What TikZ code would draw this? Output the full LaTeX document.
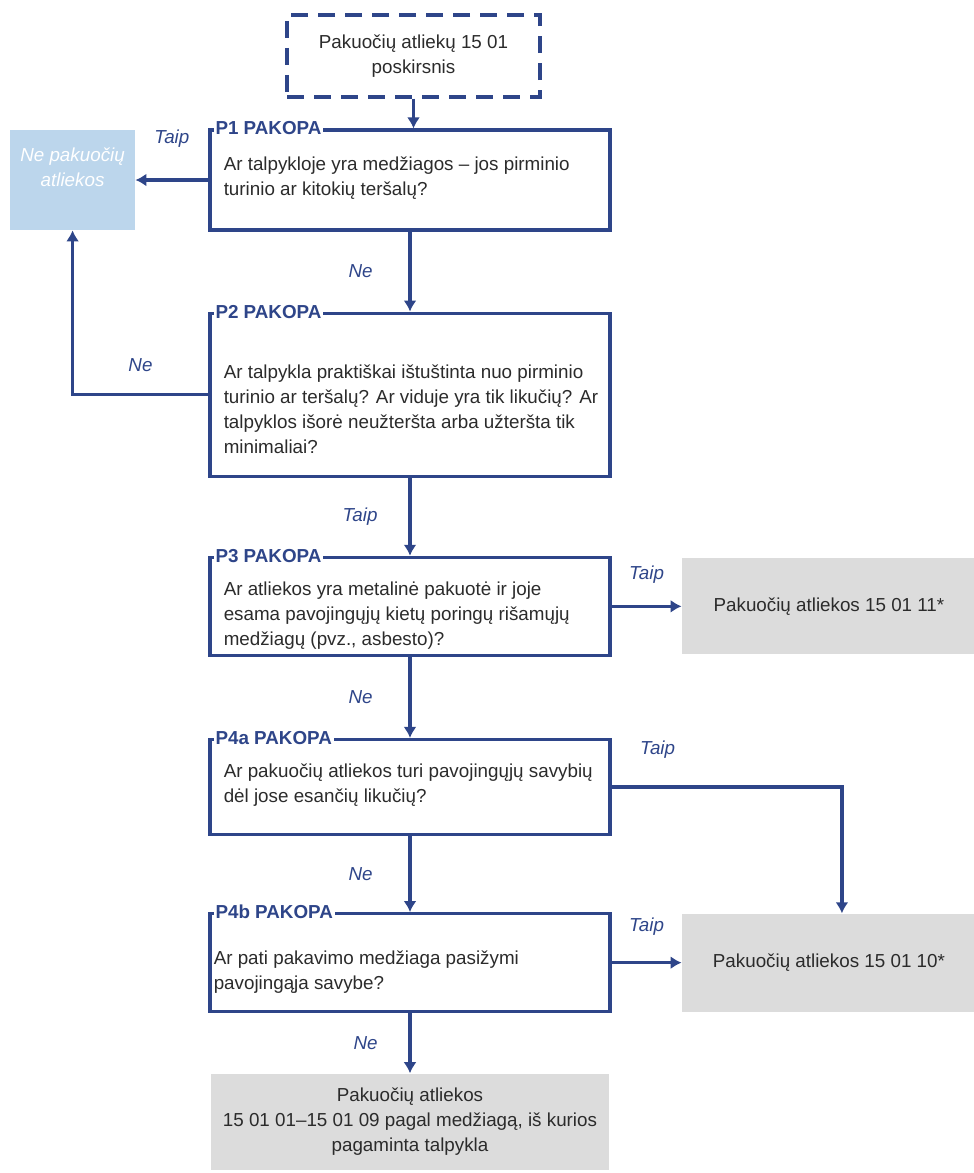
\documentclass[tikz,border=0pt]{standalone}
\usepackage{fontspec}
\setmainfont{Liberation Sans}
\usepackage{xcolor}
\usepackage{tikz}
\usetikzlibrary{positioning, arrows, arrows.meta}

\definecolor{tamsi}{HTML}{2E4589}
\definecolor{pilka}{HTML}{DCDCDC}
\definecolor{zydra}{HTML}{BCD6EC}
\definecolor{tekstas}{HTML}{2B2B2B}
\newcommand{\rasmuo}{\fontsize{10.7}{14.2}\selectfont}

\tikzset{
	pakopa/.style={draw=tamsi, line width=1.8pt, minimum width=8cm, inner sep=0pt},
	galas/.style={fill=pilka, minimum width=5.88cm, align=center, text=tekstas},
	antraste/.style={fill=white, text=tamsi, font=\rasmuo\bfseries, inner sep=1pt, anchor=west},
	klausimas/.style={anchor=north west, align=left, inner sep=0pt, text=tekstas},
	ats/.style={font=\rasmuo\itshape, text=tamsi},
	rodykle/.style={draw=tamsi, line width=1.8pt, -{Latex[length=0.22cm, width=0.26cm]}},
}

\begin{document}
\begin{tikzpicture}[font=\rasmuo]
			\useasboundingbox (0,0) rectangle (19.48,-23.46);
			\node[draw=tamsi, line width=1.8pt, dash pattern=on 0.34cm off 0.2cm, minimum width=5.06cm, minimum height=1.64cm, align=center, text=tekstas] (start) at (8.27,-1.12) {Pakuočių atliekų 15 01\\poskirsnis};
			\node[pakopa, minimum height=2cm] (p1) at (8.2,-3.6) {};
			\node[pakopa, minimum height=3.26cm, below = 1.6cm of p1] (p2) {};
			\node[pakopa, minimum height=1.96cm, below = 1.56cm of p2] (p3) {};
			\node[pakopa, minimum height=1.9cm, below = 1.62cm of p3] (p4a) {};
			\node[pakopa, minimum height=1.96cm, below = 1.52cm of p4a] (p4b) {};
			\node[galas, minimum width=7.96cm, minimum height=1.92cm, below = 1.2cm of p4b] (last) {Pakuočių atliekos\\15 01 01--15 01 09 pagal medžiagą, iš kurios\\pagaminta talpykla};
			\node[fill=zydra, minimum width=2.5cm, minimum height=2cm, left = 1.46cm of p1] (nep) {};
			\node[galas, minimum height=1.92cm, right = 1.4cm of p3] (g11) {Pakuočių atliekos 15 01 11*};
			\node[galas, minimum height=1.96cm, right = 1.4cm of p4b] (g10) {Pakuočių atliekos 15 01 10*};
			\node[text=white, font=\rasmuo\itshape, align=center] (nept) at ([yshift=-0.75cm]nep.north) {Ne pakuočių\\atliekos};
			% pakopu antrastes ir klausimai
			\node[antraste] (p1t) at ([xshift=0.1cm]p1.north west) {P1 PAKOPA};
			\node[antraste] (p2t) at ([xshift=0.1cm]p2.north west) {P2 PAKOPA};
			\node[antraste] (p3t) at ([xshift=0.1cm]p3.north west) {P3 PAKOPA};
			\node[antraste] (p4at) at ([xshift=0.1cm]p4a.north west) {P4a PAKOPA };
			\node[antraste] (p4bt) at ([xshift=0.1cm]p4b.north west) {P4b PAKOPA};
			\node[klausimas] (p1q) at ([xshift=0.3cm, yshift=-0.56cm]p1.north west) {Ar talpykloje yra medžiagos – jos pirminio\\turinio ar kitokių teršalų?};
			\node[klausimas] (p2q) at ([xshift=0.3cm, yshift=-1.06cm]p2.north west) {Ar talpykla praktiškai ištuštinta nuo pirminio\\turinio ar teršalų? Ar viduje yra tik likučių? Ar\\talpyklos išorė neužteršta arba užteršta tik\\minimaliai?};
			\node[klausimas] (p3q) at ([xshift=0.3cm, yshift=-0.52cm]p3.north west) {Ar atliekos yra metalinė pakuotė ir joje\\esama pavojingųjų kietų poringų rišamųjų\\medžiagų (pvz., asbesto)?};
			\node[klausimas] (p4aq) at ([xshift=0.3cm, yshift=-0.52cm]p4a.north west) {Ar pakuočių atliekos turi pavojingųjų savybių\\dėl jose esančių likučių?};
			\node[klausimas] (p4bq) at ([xshift=0.1cm, yshift=-0.76cm]p4b.north west) {Ar pati pakavimo medžiaga pasižymi\\pavojingąja savybe?};
			\coordinate (v10) at ([xshift=0.26cm]g10.north);
			% rodykles
			\draw[rodykle] (start.south) -- (start.south |- p1.north);
			\draw[rodykle] (p1.west) -- node[ats, above=0.5cm] (t1) {Taip} (nep.east);
			\draw[rodykle] (p1) -- node[ats, left=0.6cm] (n1) {Ne} (p2);
			\draw[rodykle] (p2.west) -- node[ats, above=0.32cm] (n2) {Ne} (nep.south |- p2.west) -- (nep.south);
			\draw[rodykle] (p2) -- node[ats, left=0.5cm] (t2) {Taip} (p3);
			\draw[rodykle] (p3) -- node[ats, above=0.3cm] (t3) {Taip} (g11);
			\draw[rodykle] (p3) -- node[ats, left=0.6cm] (n3) {Ne} (p4a);
			\draw[rodykle] (p4a.east) -- node[ats, pos=0.2, above=0.42cm] (t4) {Taip} (p4a.east -| v10) -- (v10);
			\draw[rodykle] (p4a) -- node[ats, left=0.6cm] (n4) {Ne} (p4b);
			\draw[rodykle] (p4b) -- node[ats, above=0.4cm] (t5) {Taip} (g10);
			\draw[rodykle] (p4b) -- node[ats, left=0.5cm] (n5) {Ne} (last);
		\end{tikzpicture}
\end{document}
